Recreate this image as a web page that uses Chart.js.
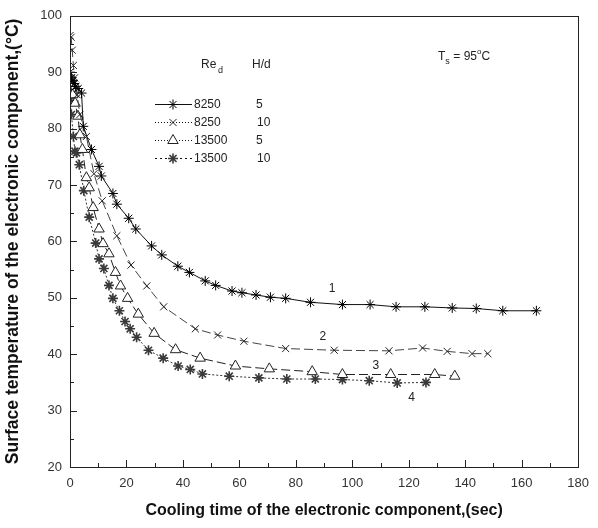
<!DOCTYPE html>
<html>
<head>
<meta charset="utf-8">
<script src="https://cdn.jsdelivr.net/npm/chart.js@4/dist/chart.umd.min.js"></script>
<style>
  html, body { margin: 0; padding: 0; background: #fff; }
  canvas { display: block; }
</style>
</head>
<body>
<canvas id="grafico" width="598" height="528"></canvas>
<script>
// cooling time (sec) and surface temperature (°C) for each run
const tempo1 = [0, 0.5, 1, 1.5, 2, 2.9, 4.1, 4.7, 7.6, 10.3, 11.1, 15.2, 16.6, 20.8, 23.3, 28.9, 32.5, 38.2, 42.3, 47.9, 51.6, 57.4, 60.9, 65.9, 71.0, 76.4, 85.2, 96.5, 106.3, 115.5, 125.7, 135.4, 143.9, 153.3, 165.2];
const temp1 = [90, 89, 88.5, 88, 87.5, 87.1, 86.3, 80.4, 76.3, 73.3, 71.6, 68.5, 66.6, 64.1, 62.2, 59.2, 57.6, 55.6, 54.5, 53.0, 52.2, 51.2, 50.9, 50.5, 50.1, 49.9, 49.2, 48.8, 48.8, 48.4, 48.4, 48.2, 48.1, 47.7, 47.7];

const tempo2 = [0, 0.4, 0.8, 1.2, 1.6, 2.5, 3.5, 5.8, 8.5, 11.4, 16.6, 21.6, 27.2, 33.2, 44.4, 52.3, 61.6, 76.4, 93.6, 113.0, 124.9, 133.6, 142.4, 148.0];
const temp2 = [96.5, 96.2, 93.9, 91.2, 89, 86, 82.5, 78.6, 72, 67.2, 61.0, 55.8, 52.1, 48.4, 44.5, 43.4, 42.3, 41.0, 40.7, 40.6, 41.1, 40.5, 40.1, 40.1];

const tempo3 = [0, 1, 1.8, 2.8, 3.5, 4.4, 5.8, 6.8, 8.2, 10.3, 11.7, 13.8, 16.1, 17.9, 20.4, 24.2, 29.8, 37.4, 46.1, 58.6, 70.6, 85.8, 96.5, 113.6, 129.2, 136.3];
const temp3 = [88, 86, 84.5, 82.2, 78.9, 76.3, 71.3, 69.5, 66.0, 62.2, 59.6, 57.8, 54.5, 52.1, 49.9, 47.1, 43.7, 40.8, 39.3, 37.9, 37.4, 36.9, 36.4, 36.4, 36.4, 36.1];

const tempo4 = [0, 0.5, 1.2, 1.75, 2.3, 3.3, 4.9, 6.8, 9.1, 10.3, 12.0, 13.8, 15.2, 17.5, 19.5, 21.3, 23.6, 27.8, 33.0, 38.3, 42.6, 46.9, 56.4, 66.9, 76.8, 86.9, 96.5, 106.0, 115.9, 126.1];
const temp4 = [85, 82.5, 78.6, 76.0, 75.7, 73.6, 69.0, 64.3, 59.7, 56.9, 55.2, 52.2, 49.9, 47.7, 45.8, 44.5, 43.0, 40.7, 39.3, 37.9, 37.3, 36.5, 36.1, 35.8, 35.6, 35.6, 35.5, 35.3, 34.9, 35.0];

const reynolds = ["8250", "8250", "13500", "13500"];
const alturas = ["5", "10", "5", "10"];
const numerosCurva = ["1", "2", "3", "4"];
// where the curve numbers sit, in data units
const posNumeroX = [92.8, 89.6, 108.3, 121.0];
const posNumeroY = [51.6, 43.1, 38.0, 32.3];

const rotuloX = "Cooling time of the electronic component,(sec)";
const rotuloY = "Surface temperature of the electronic component,(\u00B0C)";

function pontos(xs, ys) {
  return xs.map((x, i) => ({ x: x, y: ys[i] }));
}

const estilos = [
  { ponto: "star", raio: 5, borda: 1, traco: [], cor: "#000", linha: "#111" },
  { ponto: "crossRot", raio: 5, borda: 1, traco: [9, 4], cor: "#222", linha: "#444" },
  { ponto: "triangle", raio: 6, borda: 1, traco: [9, 4], cor: "#222", linha: "#222" },
  { ponto: "star", raio: 5, borda: 1.6, traco: [2, 2], cor: "#3a3a3a", linha: "#333" }
];

const series = [pontos(tempo1, temp1), pontos(tempo2, temp2), pontos(tempo3, temp3), pontos(tempo4, temp4)];

const conjuntos = series.map((dados, i) => ({
  label: reynolds[i] + " " + alturas[i],
  data: dados,
  showLine: true,
  borderColor: estilos[i].linha,
  borderWidth: 1,
  borderDash: estilos[i].traco,
  pointStyle: estilos[i].ponto,
  pointRadius: estilos[i].raio,
  pointBorderWidth: estilos[i].borda,
  pointBorderColor: estilos[i].cor,
  pointBackgroundColor: "#fff",
  tension: 0
}));

const fonte = "'Liberation Sans', Arial, sans-serif";

// frame, inward ticks, legend block and text notes
const extras = {
  id: "extras",
  afterDraw(chart) {
    const ctx = chart.ctx;
    const area = chart.chartArea;
    const sx = chart.scales.x;
    const sy = chart.scales.y;
    ctx.save();

    ctx.strokeStyle = "#222";
    ctx.lineWidth = 1;
    ctx.setLineDash([]);
    ctx.strokeRect(Math.round(area.left) + 0.5, Math.round(area.top) + 0.5,
      Math.round(area.right - area.left), Math.round(area.bottom - area.top));

    ctx.beginPath();
    for (let v = 10; v < 180; v += 10) {
      const px = Math.round(sx.getPixelForValue(v)) + 0.5;
      const len = v % 20 === 0 ? 7 : 4;
      ctx.moveTo(px, area.bottom);
      ctx.lineTo(px, area.bottom - len);
    }
    for (let v = 25; v < 100; v += 5) {
      const py = Math.round(sy.getPixelForValue(v)) + 0.5;
      const len = v % 10 === 0 ? 7 : 4;
      ctx.moveTo(area.left, py);
      ctx.lineTo(area.left + len, py);
    }
    ctx.stroke();

    // legend
    const lx = area.left + 85;
    const topo = area.top + 88;
    const passo = 18.2;
    ctx.fillStyle = "#222";
    ctx.textBaseline = "middle";
    ctx.font = "12px " + fonte;
    ctx.fillText("Re", area.left + 131, area.top + 49);
    ctx.font = "9px " + fonte;
    ctx.fillText("d", area.left + 148, area.top + 55);
    ctx.font = "12px " + fonte;
    ctx.fillText("H/d", area.left + 182, area.top + 49);

    const tracosLegenda = [[], [1, 2], [1, 2], [2, 3]];
    for (let i = 0; i < 4; i++) {
      const y = Math.round(topo + i * passo) + 0.5;
      ctx.strokeStyle = "#111";
      ctx.lineWidth = 1;
      ctx.setLineDash(tracosLegenda[i]);
      ctx.beginPath();
      ctx.moveTo(lx, y);
      ctx.lineTo(lx + 37, y);
      ctx.stroke();
      ctx.setLineDash([]);
      ctx.save();
      ctx.fillStyle = "#fff";
      ctx.strokeStyle = estilos[i].cor;
      ctx.lineWidth = estilos[i].borda;
      Chart.helpers.drawPoint(ctx, {
        pointStyle: estilos[i].ponto,
        radius: estilos[i].raio,
        borderWidth: estilos[i].borda,
        rotation: 0
      }, lx + 18, y);
      ctx.restore();
      ctx.fillStyle = "#222";
      ctx.font = "12px " + fonte;
      ctx.fillText(reynolds[i], lx + 39, y);
      ctx.fillText(alturas[i], area.left + (alturas[i].length === 1 ? 186 : 187), y);
    }

    // wall temperature note
    let tx = area.left + 368;
    const ty = area.top + 41;
    ctx.font = "12px " + fonte;
    ctx.fillText("T", tx, ty);
    tx += ctx.measureText("T").width;
    ctx.font = "9px " + fonte;
    ctx.fillText("s", tx, ty + 5);
    tx += ctx.measureText("s ").width + 1;
    ctx.font = "12px " + fonte;
    ctx.fillText("= 95", tx, ty);
    tx += ctx.measureText("= 95").width;
    ctx.font = "8px " + fonte;
    ctx.fillText("o", tx, ty - 5);
    tx += ctx.measureText("o").width;
    ctx.font = "12px " + fonte;
    ctx.fillText("C", tx, ty);

    // curve numbers
    ctx.textAlign = "center";
    for (let i = 0; i < numerosCurva.length; i++) {
      ctx.fillText(numerosCurva[i], sx.getPixelForValue(posNumeroX[i]), sy.getPixelForValue(posNumeroY[i]));
    }
    ctx.restore();
  }
};

new Chart(document.getElementById("grafico"), {
  type: "scatter",
  data: { datasets: conjuntos },
  plugins: [extras],
  options: {
    responsive: false,
    animation: false,
    layout: { padding: { top: 12, right: 14, left: 0, bottom: 0 } },
    plugins: { legend: { display: false }, tooltip: { enabled: false } },
    scales: {
      x: {
        type: "linear",
        min: 0,
        max: 180,
        afterFit: (s) => { s.height = 61; },
        ticks: { stepSize: 20, padding: 9, color: "#333", font: { family: fonte, size: 13 }, maxRotation: 0 },
        grid: { display: true, drawOnChartArea: false, drawTicks: false },
        border: { display: false },
        title: { display: true, text: rotuloX, color: "#111", font: { family: fonte, size: 16, weight: "bold" }, padding: { top: 0, bottom: 8 } }
      },
      y: {
        type: "linear",
        min: 20,
        max: 100,
        afterFit: (s) => { s.width = 70; },
        ticks: { stepSize: 10, padding: 8, color: "#333", font: { family: fonte, size: 13 } },
        grid: { display: true, drawOnChartArea: false, drawTicks: false },
        border: { display: false },
        title: { display: true, text: rotuloY, color: "#111", font: { family: fonte, size: 17.5, weight: "bold" }, padding: { top: 3, bottom: 0 } }
      }
    }
  }
});
</script>
</body>
</html>
